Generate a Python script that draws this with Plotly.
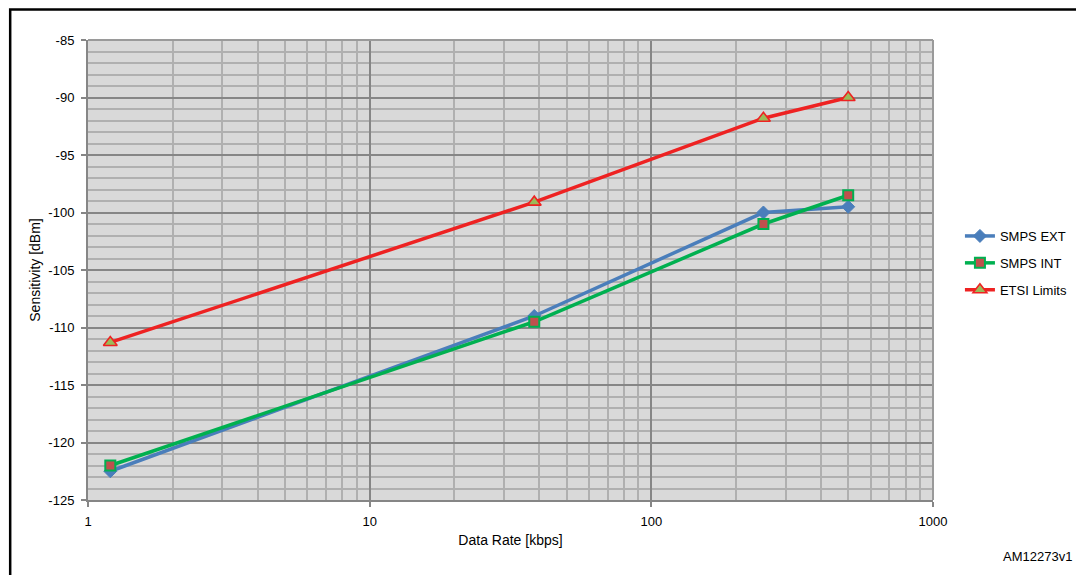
import plotly.graph_objects as go

# Data
data_rate = [1.2, 38.4, 250, 500]
smps_ext = [-122.5, -109.0, -100.0, -99.5]
smps_int = [-122.0, -109.5, -101.0, -98.5]
etsi_limits = [-111.3, -99.1, -91.8, -90.0]

x_ticks = [1, 10, 100, 1000]
x_tick_labels = ["1", "10", "100", "1000"]
x_minor = [m * d for d in (1, 10, 100) for m in range(2, 10)]
y_ticks = [-125, -120, -115, -110, -105, -100, -95, -90, -85]
y_tick_labels = ["-125", "-120", "-115", "-110", "-105", "-100", "-95", "-90", "-85"]

FONT = "Liberation Sans, Arial, Helvetica, sans-serif"

# page body has an 8px margin: figure is sized/offset to compensate
W, H = 1076, 567
L, T, R, B = 80, 32, 149, 75
PW, PH = W - L - R, H - T - B


def px(xp):  # page x -> paper x
    return (xp - 8 - L) / PW


def py(yp):  # page y -> paper y
    return (T + PH - (yp - 8)) / PH


fig = go.Figure()

fig.add_trace(go.Scatter(
    x=data_rate, y=smps_ext, name="SMPS EXT", mode="lines+markers",
    legendgroup="a",
    line=dict(color="#4a7ebb", width=3.5),
    marker=dict(symbol="diamond", size=10, color="#4a7ebb",
                line=dict(color="#4a7ebb", width=1)),
))
fig.add_trace(go.Scatter(
    x=data_rate, y=smps_int, name="SMPS INT", mode="lines+markers",
    legendgroup="b",
    line=dict(color="#00b050", width=3.5),
    marker=dict(symbol="square", size=10, color="#c0504d",
                line=dict(color="#00b050", width=2)),
))
fig.add_trace(go.Scatter(
    x=data_rate, y=etsi_limits, name="ETSI Limits", mode="lines+markers",
    legendgroup="c",
    line=dict(color="#ee2222", width=3.5),
    marker=dict(symbol="triangle-up", size=12, color="#9bbb59",
                line=dict(color="#ee2222", width=1.6)),
))

fig.update_layout(
    width=W, height=H,
    margin=dict(l=L, r=R, t=T, b=B),
    paper_bgcolor="white",
    plot_bgcolor="#d9d9d9",
    font=dict(family=FONT, size=13, color="black"),
    showlegend=True,
    legend=dict(
        x=px(962), xanchor="left", y=py(263), yanchor="middle",
        font=dict(size=13, family=FONT),
        tracegroupgap=7, bgcolor="rgba(0,0,0,0)",
    ),
    xaxis=dict(
        type="log", range=[0, 3],
        tickmode="array", tickvals=x_ticks, ticktext=x_tick_labels,
        showgrid=True, gridcolor="#868686", gridwidth=2,
        showline=True, linecolor="#868686", linewidth=2,
        ticks="outside", ticklen=5, tickcolor="#868686", tickwidth=2,
        tickfont=dict(size=13), ticklabelstandoff=3,
        minor=dict(tickvals=x_minor, showgrid=True, gridcolor="#b0b0b0", gridwidth=2,
                   ticks=""),
        zeroline=False,
        title=dict(text="Data Rate [kbps]", font=dict(size=14), standoff=8),
    ),
    yaxis=dict(
        range=[-125, -85], tickmode="array", tickvals=y_ticks, ticktext=y_tick_labels,
        showgrid=True, gridcolor="#868686", gridwidth=2,
        showline=True, linecolor="#868686", linewidth=2,
        ticks="outside", ticklen=5, tickcolor="#868686", tickwidth=2,
        tickfont=dict(size=13), ticklabelstandoff=4,
        minor=dict(dtick=1, tick0=-125, showgrid=True, gridcolor="#b0b0b0",
                   gridwidth=2, ticks=""),
        zeroline=False,
        title=dict(text="Sensitivity [dBm]", font=dict(size=14), standoff=4),
    ),
)

# right / top edges of plot area
fig.add_shape(type="line", xref="paper", yref="paper", x0=1, x1=1, y0=0, y1=1,
              line=dict(color="#9a9a9a", width=2))
fig.add_shape(type="line", xref="paper", yref="paper", x0=0, x1=1, y0=1, y1=1,
              line=dict(color="#9a9a9a", width=2))

# outer black frame
fig.add_shape(type="rect", xref="paper", yref="paper",
              x0=px(10), x1=px(1100),
              y0=py(600), y1=py(9.5),
              line=dict(color="black", width=2.5), layer="above")

fig.add_annotation(text="AM12273v1", xref="paper", yref="paper",
                   x=px(1076), y=py(556),
                   xanchor="right", yanchor="middle", showarrow=False,
                   font=dict(size=13, family=FONT))

fig.write_html("out.html")
